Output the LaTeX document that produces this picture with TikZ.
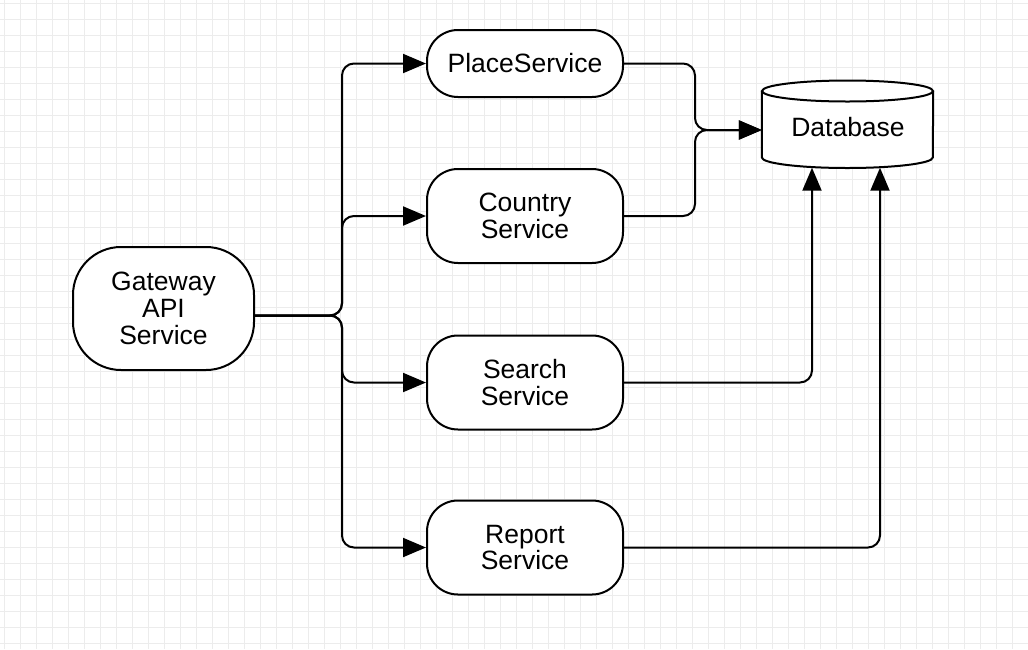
\documentclass[tikz,border=0pt]{standalone}
\usepackage{fontspec}
\setmainfont{Liberation Sans}
\usetikzlibrary{arrows.meta,calc}
\definecolor{gridc}{HTML}{ECECEC}
\begin{document}
\begin{tikzpicture}[x=1pt,y=-1pt,
  txt/.style={font=\fontsize{26.5}{26.8}\selectfont},
  box/.style={draw, line width=2pt, rounded corners=#1, fill=white, align=center, inner sep=0pt, txt},
  svc/.style={box=31pt, minimum width=196pt, minimum height=94pt},
  link/.style={line width=2pt, rounded corners=12pt, -{Triangle[length=23pt,width=19pt]}},
  gridline/.style={draw=gridc, line width=1pt}]
\useasboundingbox (0,0) rectangle (1028,649);
\fill[white] (0,0) rectangle (1028,649);
\foreach \i in {0,...,64} \draw[gridline] ({4+16*\i},0) -- ({4+16*\i},649);
\foreach \j in {0,...,40} \draw[gridline] (0,{3.5+16*\j}) -- (1028,{3.5+16*\j});

% nodes
\node[box=48pt, minimum width=181pt, minimum height=123pt] (gw) at (163.5,308.5) {Gateway\\API\\Service};
\node[box=31pt, minimum width=196pt, minimum height=67pt] (place) at (525,63.5) {PlaceService};
\node[svc] (country) at (525,216) {Country\\Service};
\node[svc] (search) at (525,382.5) {Search\\Service};
\node[svc] (report) at (525,547.5) {Report\\Service};

% database cylinder
\node[minimum width=171pt, minimum height=87pt, inner sep=0pt] (db) at (847.5,124) {};
\filldraw[fill=white, line width=2pt] (db.west |- 0,91) -- (db.west |- 0,157.5)
  arc[start angle=180, end angle=0, x radius=85.5, y radius=10.5] -- (db.east |- 0,91);
\filldraw[fill=white, line width=2pt] (db.center |- 0,91) ellipse [x radius=85.5, y radius=10.5];
\node[txt] (dbtext) at (848,127.5) {Database};

% coordinates
\coordinate (j) at (342,315.5);
\coordinate (m) at (695,130);
\coordinate (dbin) at ($(db.west)+(0,6)$);
\coordinate (dbb1) at (812,0 |- db.south);
\coordinate (dbb2) at (880,0 |- db.south);

% connectors
\draw[link] (gw.east |- j) -- (j) |- (place.west);
\draw[link] (gw.east |- j) -- (j) |- (country.west);
\draw[link] (gw.east |- j) -- (j) |- (search.west);
\draw[link] (gw.east |- j) -- (j) |- (report.west);
\draw[link] (place.east) -| (m) -- (dbin);
\draw[link] (country.east) -| (m) -- (dbin);
\draw[link] (search.east) -| (dbb1);
\draw[link] (report.east) -| (dbb2);
\end{tikzpicture}
\end{document}
